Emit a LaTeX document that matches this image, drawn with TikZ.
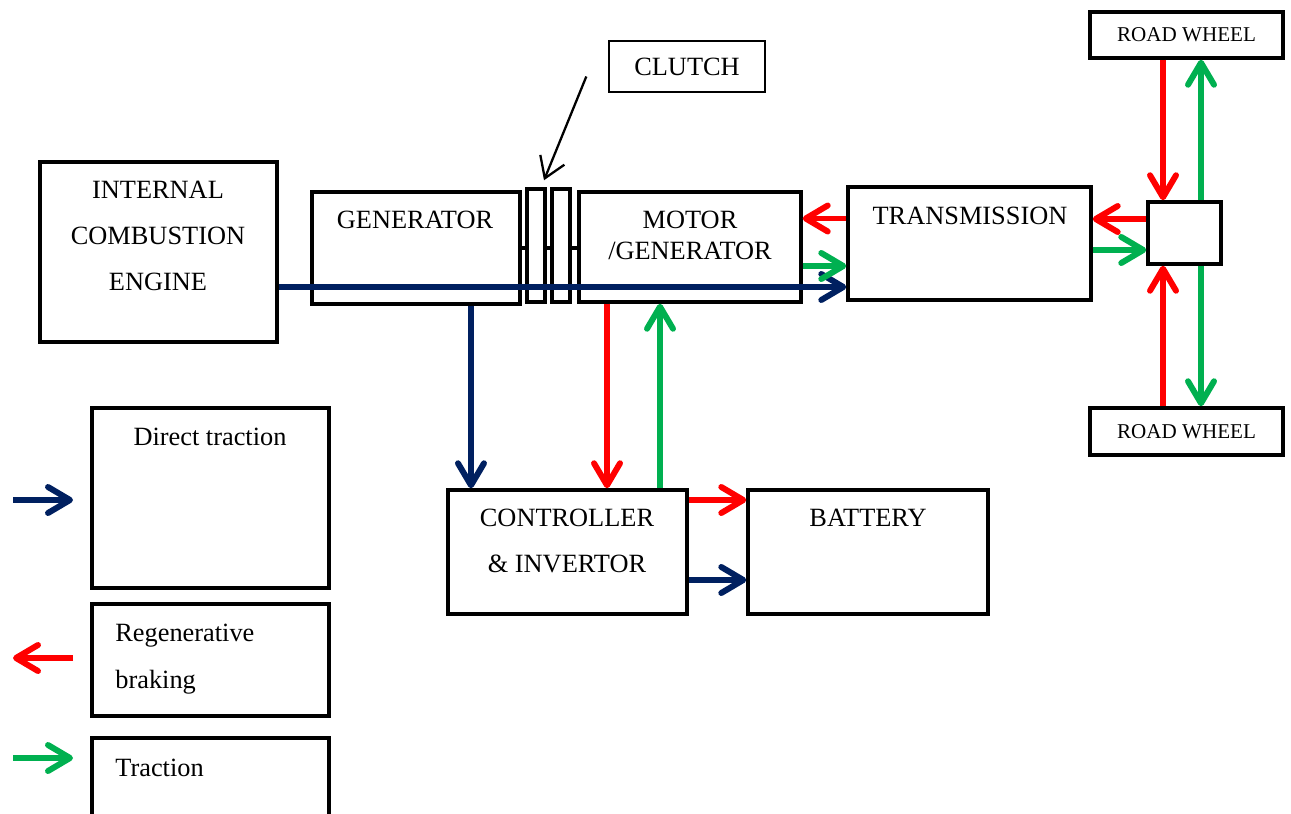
\documentclass[tikz,border=0pt]{standalone}
\usepackage{fontspec}
\setmainfont{Liberation Serif}
\usetikzlibrary{arrows.meta,positioning}
\definecolor{DirectNavy}{HTML}{002060}
\definecolor{BrakeRed}{HTML}{FF0000}
\definecolor{TractGreen}{HTML}{00B050}
\begin{document}
\begin{tikzpicture}[x=0.02cm,y=-0.02cm,
    block/.style={draw,line width=2pt,inner sep=0pt},
    txt/.style={font=\fontsize{15}{26.4}\selectfont,align=center,inner sep=0pt},
    small/.style={font=\fontsize{12}{14}\selectfont},
    flow/.style={line width=3.4pt,-{Straight Barb[length=4.4mm,width=5.2mm,round]}},
    direct/.style={flow,DirectNavy},
    regen/.style={flow,BrakeRed},
    tract/.style={flow,TractGreen}]
  \useasboundingbox (0,0) rectangle (1291,814);
  \clip (0,0) rectangle (1291,814);
  % drive line
  \node[block,minimum width=4.74cm,minimum height=3.6cm] (ice) at (158.5,252) {};
  \node[block,minimum width=4.16cm,minimum height=2.24cm] (gen) at (416,248) {};
  \node[block,minimum width=0.36cm,minimum height=2.26cm] (plate1) at (536,245.5) {};
  \node[block,minimum width=0.36cm,minimum height=2.26cm] (plate2) at (561,245.5) {};
  \node[block,minimum width=4.44cm,minimum height=2.2cm] (mg) at (690,247) {};
  \node[block,minimum width=4.86cm,minimum height=2.26cm] (trans) at (969.5,243.5) {};
  \node[block,minimum width=1.46cm,minimum height=1.24cm] (hub) at (1184.5,233) {};
  \node[block,small,minimum width=3.86cm,minimum height=0.92cm] (wheeltop) at (1186.5,35) {ROAD WHEEL};
  \node[block,small,minimum width=3.86cm,minimum height=0.94cm] (wheelbot) at (1186.5,431.5) {ROAD WHEEL};
  \node[draw,line width=0.8pt,txt,minimum width=3.12cm,minimum height=1.02cm] (clutch) at (687,66.5) {CLUTCH};
  \node[block,minimum width=4.78cm,minimum height=2.48cm] (ctrl) at (567.5,552) {};
  \node[block,minimum width=4.8cm,minimum height=2.48cm] (batt) at (868,552) {};
  % key
  \node[block,minimum width=4.74cm,minimum height=3.6cm] (key1) at (210.5,498) {};
  \node[block,minimum width=4.74cm,minimum height=2.24cm] (key2) at (210.5,660) {};
  \node[block,minimum width=4.74cm,minimum height=2.48cm] (key3) at (210.5,800) {};
  % texts
  \node[txt] (icetxt) at (158,236) {INTERNAL\\COMBUSTION\\ENGINE};
  \node[txt] (gentxt) at (415,220) {GENERATOR};
  \node[txt,font=\fontsize{15}{17.6}\selectfont] (mgtxt) at (690,235) {MOTOR\\/GENERATOR};
  \node[txt] (transtxt) at (970,216) {TRANSMISSION};
  \node[txt] (ctrltxt) at (567,541) {CONTROLLER\\\& INVERTOR};
  \node[txt] (batttxt) at (868,518) {BATTERY};
  \node[txt] (key1txt) at (210,437) {Direct traction};
  \node[txt,align=left,anchor=west] (key2txt) at (115,659) {Regenerative\\braking};
  \node[txt,anchor=west] (key3txt) at (115,768) {Traction};
  % clutch shaft
  \draw[line width=2pt] (gen.east) -- (gen.east -| plate1.west)
    (gen.east -| plate1.east) -- (gen.east -| plate2.west)
    (gen.east -| plate2.east) -- (gen.east -| mg.west);
  \draw[line width=1.3pt,-{Straight Barb[length=4mm,width=5.2mm]}]
    ([xshift=-0.44cm,yshift=-0.2cm]clutch.west) -- ([xshift=0.16cm,yshift=0.14cm]plate1.north);
  % power flows
  \draw[direct] ([yshift=-0.7cm]ice.east) -- ([yshift=-0.7cm]ice.east -| trans.west);
  \draw[direct] ([xshift=1.1cm]gen.south) -- ([xshift=1.1cm]gen.south |- ctrl.north);
  \draw[regen] ([xshift=-1.66cm]mg.south) -- ([xshift=-1.66cm]mg.south |- ctrl.north);
  \draw[tract] ([xshift=-0.6cm]mg.south |- ctrl.north) -- ([xshift=-0.6cm]mg.south);
  \draw[regen] ([yshift=0.5cm]trans.west) -- ([yshift=0.5cm]trans.west -| mg.east);
  \draw[tract] ([yshift=-0.38cm]mg.east) -- ([yshift=-0.38cm]mg.east -| trans.west);
  \draw[regen] ([yshift=0.28cm]hub.west) -- ([yshift=0.28cm]hub.west -| trans.east);
  \draw[tract] ([yshift=-0.34cm]hub.west -| trans.east) -- ([yshift=-0.34cm]hub.west);
  \draw[regen] ([xshift=-0.43cm]hub.north |- wheeltop.south) -- ([xshift=-0.43cm]hub.north);
  \draw[tract] ([xshift=0.33cm]hub.north) -- ([xshift=0.33cm]hub.north |- wheeltop.south);
  \draw[regen] ([xshift=-0.43cm]hub.south |- wheelbot.north) -- ([xshift=-0.43cm]hub.south);
  \draw[tract] ([xshift=0.33cm]hub.south) -- ([xshift=0.33cm]hub.south |- wheelbot.north);
  \draw[regen] ([yshift=1.04cm]ctrl.east) -- ([yshift=1.04cm]ctrl.east -| batt.west);
  \draw[direct] ([yshift=-0.56cm]ctrl.east) -- ([yshift=-0.56cm]ctrl.east -| batt.west);
  % key arrows
  \coordinate (k1a) at (13,500);
  \coordinate (k1b) at (73,500);
  \coordinate (k2a) at (73,658);
  \coordinate (k2b) at (13,658);
  \coordinate (k3a) at (13,758);
  \coordinate (k3b) at (73,758);
  \draw[direct] (k1a) -- (k1b);
  \draw[regen] (k2a) -- (k2b);
  \draw[tract] (k3a) -- (k3b);
\end{tikzpicture}
\end{document}
